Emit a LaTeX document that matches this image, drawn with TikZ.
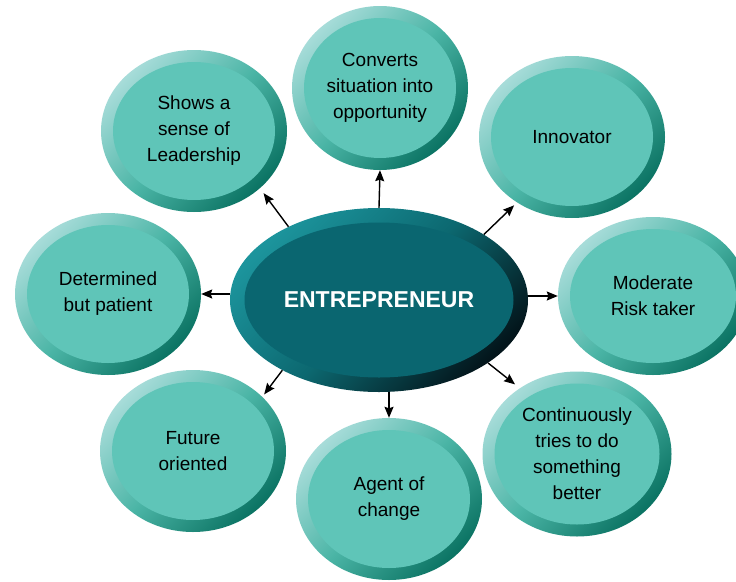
\documentclass[tikz,border=0pt]{standalone}
\usepackage{fontspec}
\setmainfont{Liberation Sans}
\usetikzlibrary{arrows.meta, shapes.geometric, calc}

\definecolor{rimlight}{HTML}{A7DCD9}
\definecolor{rimmid}{HTML}{4BB5A6}
\definecolor{rimdark}{HTML}{0B7363}
\definecolor{traitface}{HTML}{5FC5B8}
\definecolor{corelight}{HTML}{1C949C}
\definecolor{coremid}{HTML}{0C6870}
\definecolor{coredark}{HTML}{03151B}
\definecolor{coreface}{HTML}{0A6670}

\tikzset{
    bevel/.style 2 args={path picture={
        \fill [#1] let \p1 = (path picture bounding box.north east),
            \p2 = (path picture bounding box.center) in
            (\p2) ellipse ({\x1-\x2-#2} and {\y1-\y2-#2});
    }},
    trait/.style={ellipse, minimum width=186pt, minimum height=162pt, inner sep=0pt,
        top color=rimlight, bottom color=rimdark, middle color=rimmid, shading angle=45,
        bevel={traitface}{12pt}, align=center, text=black,
        font=\fontsize{19}{26}\selectfont},
    core/.style={ellipse, minimum width=298pt, minimum height=184pt, inner sep=0pt,
        top color=corelight, bottom color=coredark, middle color=coremid, shading angle=45,
        bevel={coreface}{14.5pt}, text=white,
        font=\fontsize{23}{28}\selectfont\bfseries},
    link/.style={-{Stealth[length=11pt, width=9pt, inset=1.5pt]}, line width=1.4pt},
}

\begin{document}
\begin{tikzpicture}[x=1pt, y=-1pt]
    \useasboundingbox (0, 0) rectangle (736, 581);
    % Centre
    \node [core] (entre) at (379, 300) {ENTREPRENEUR};
    % Traits round it
    \node [trait] (lead) at (194, 131) {Shows a\\sense of\\Leadership};
    \node [trait, minimum width=176pt, minimum height=164pt] (convert) at (380, 88) {Converts\\situation into\\opportunity};
    \node [trait] (innov) at (572, 137) {Innovator};
    \node [trait] (determ) at (108, 294) {Determined\\but patient};
    \node [trait, minimum width=190pt, minimum height=158pt] (risk) at (653, 296) {Moderate\\Risk taker};
    \node [trait] (future) at (193, 451) {Future\\oriented};
    \node [trait] (agent) at (389, 499) {Agent of\\change};
    \node [trait, minimum width=189pt, minimum height=165pt] (better) at (577, 454) {Continuously\\tries to do\\something\\better};
    % Arrows
    \draw [link] (entre.north) -- (convert.south);
    \draw [link, shorten >=6pt] (entre.141) -- (lead.-41);
    \draw [link, shorten >=4pt] (entre.32) -- (innov.230);
    \draw [link] (entre.west |- determ.center) -- (determ.east);
    \draw [link] (entre.east |- risk.center) -- (risk.west);
    \draw [link, shorten >=3pt] (entre.216) -- (future.38);
    \draw [link] (entre.south -| agent.north) -- (agent.north);
    \draw [link, shorten >=6pt] (entre.-30) -- (better.131);
\end{tikzpicture}
\end{document}
